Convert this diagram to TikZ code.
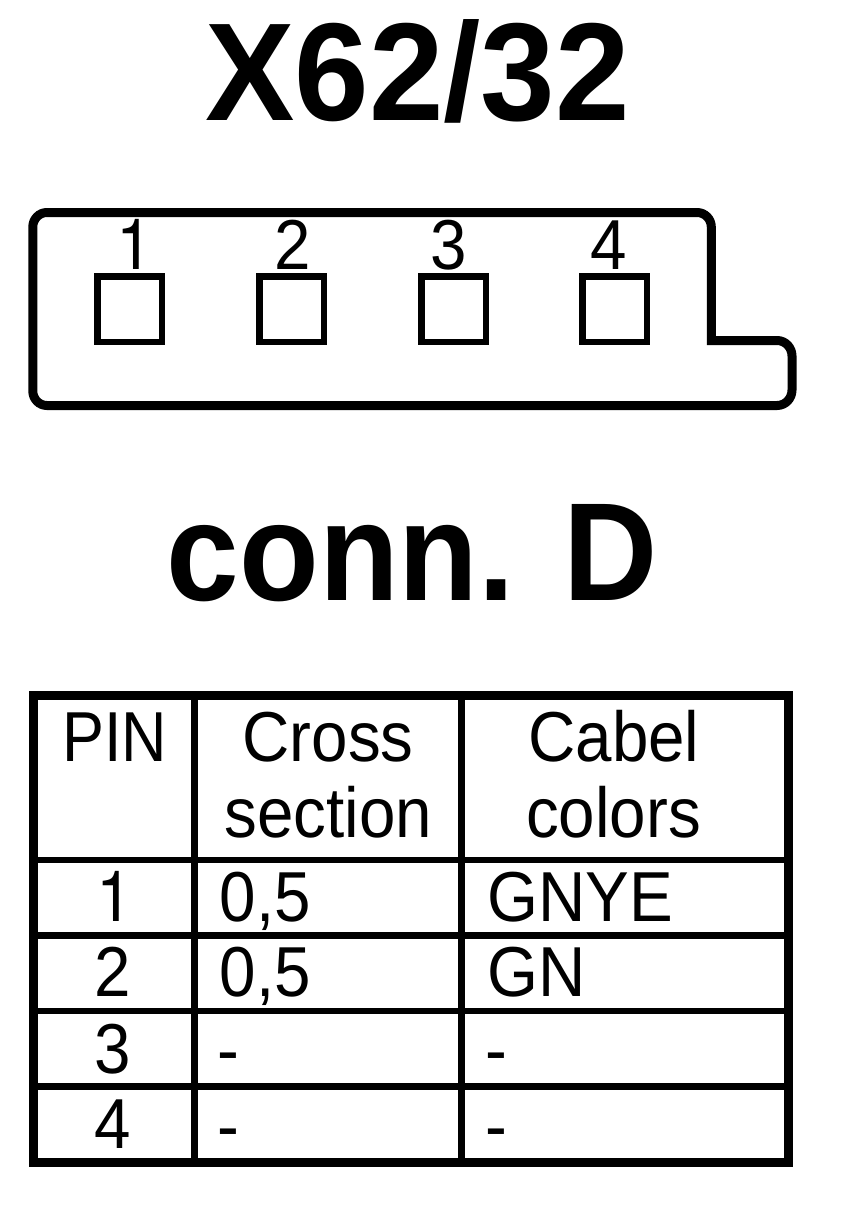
\documentclass[tikz,border=0pt]{standalone}
\usepackage{fontspec}
\setmainfont{Liberation Sans}
\newfontfamily\oneface{TeX Gyre Heros}
\newcommand{\fs}[1]{\fontsize{#1}{#1}\selectfont}
\begin{document}
\begin{tikzpicture}[x=1pt,y=-1pt,
  titlebig/.style={font=\fs{134}\bfseries,inner sep=0,anchor=base,yscale=1.04},
  subbig/.style={font=\fs{130.5}\bfseries,inner sep=0,anchor=base,yscale=1.07},
  num/.style={font=\fs{65.5},inner sep=0,anchor=base,yscale=1.08},
  celll/.style={font=\fs{65.5},inner sep=0,anchor=base west,yscale=1.08},
  outline/.style={line width=9pt,line join=miter},
  pinbox/.style={draw,line width=6.5pt,minimum width=64.5pt,minimum height=65.5pt,inner sep=0,outer sep=0}]
\useasboundingbox (0,0) rectangle (864,1210);
\fill[white] (0,0) rectangle (864,1210);
\node[titlebig] (title) at (417.5,120.5) {X62/32};
\draw[outline] (47,212.5) -- (697,212.5) to[out=0,in=90] (711.3,227) -- (711.3,340.5) -- (777,340.5) to[out=0,in=90] (792,356) -- (792,390) to[out=-90,in=0] (777,405.5) -- (47,405.5) to[out=180,in=-90] (32.8,391) -- (32.8,227) to[out=90,in=180] (47,212.5) -- cycle;
\foreach \n/\x/\bx in {2/293/291.5,3/449/453.5,4/609/614.7}{
  \node[num] (l\n) at (\x,269) {\n};
  \node[pinbox] (p\n) at (\bx,309) {};
}
\node[num] (l1) at (134.7,269) {\oneface 1};
\node[pinbox] (p1) at (129.5,309) {};
\node[subbig] (sub) at (412,600) {conn. D};
\draw[line width=9pt] (33,695.5) rectangle (788,1162.5);
\draw[line width=6pt] (33,859.8) -- (788,859.8);
\draw[line width=7pt] (33,935.5) -- (788,935.5);
\draw[line width=6pt] (33,1011) -- (788,1011);
\draw[line width=6.7pt] (33,1086.7) -- (788,1086.7);
\draw[line width=7pt] (194.7,695.5) -- (194.7,1162.5);
\draw[line width=6.7pt] (461.7,695.5) -- (461.7,1162.5);
\node[num,xscale=.96] (h1) at (114.5,761) {PIN};
\node[num] (h2a) at (328,761) {Cross};
\node[num] (h2b) at (328.5,837) {section};
\node[num] (h3a) at (614,761) {Cabel};
\node[num] (h3b) at (613.5,837) {colors};
\node[num] (r1) at (115,921.5) {\oneface 1};
\node[num] (r2) at (113,996.7) {2};
\node[num] (r3) at (113,1073) {3};
\node[num] (r4) at (113,1148) {4};
\node[celll] (c1) at (219.5,921.5) {0,5};
\node[celll] (c2) at (219.5,996.7) {0,5};
\node[celll] (c3) at (217.5,1074) {-};
\node[celll] (c4) at (217.5,1150) {-};
\node[celll] (d1) at (487,921.5) {GNYE};
\node[celll] (d2) at (487,996.7) {GN};
\node[celll] (d3) at (485.5,1074) {-};
\node[celll] (d4) at (485.5,1150) {-};
\end{tikzpicture}
\end{document}
